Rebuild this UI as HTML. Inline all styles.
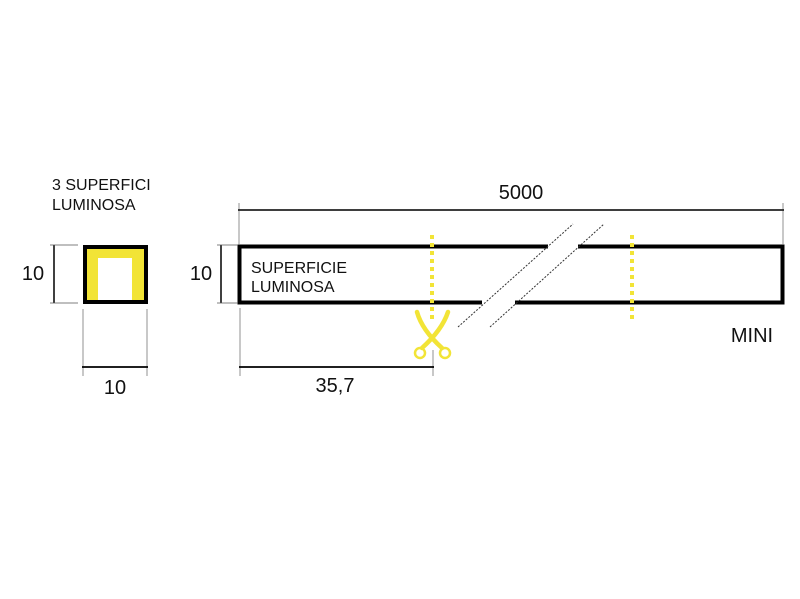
<!DOCTYPE html>
<html><head><style>
html,body{margin:0;padding:0;background:#fff;}
svg{display:block;}
text{font-family:"Liberation Sans",Arial,sans-serif;fill:#111;}
</style></head><body>
<svg width="800" height="599" viewBox="0 0 800 599" xmlns="http://www.w3.org/2000/svg">
<rect width="800" height="599" fill="#fff"/>
<text x="52" y="190" font-size="16">3 SUPERFICI</text>
<text x="52" y="210" font-size="16">LUMINOSA</text>
<rect x="85" y="247" width="61" height="55" fill="#f2e436" stroke="#000" stroke-width="4"/>
<rect x="98" y="258" width="34" height="42" fill="#fff"/>
<rect x="85" y="247" width="61" height="55" fill="none" stroke="#000" stroke-width="4"/>
<line x1="54" y1="245" x2="54" y2="303" stroke="#000" stroke-width="1.5"/>
<line x1="50" y1="245" x2="78" y2="245" stroke="#555" stroke-width="0.8"/>
<line x1="50" y1="303" x2="78" y2="303" stroke="#555" stroke-width="0.8"/>
<text x="33" y="280" font-size="20" text-anchor="middle">10</text>
<line x1="83" y1="309" x2="83" y2="376" stroke="#777" stroke-width="0.8"/>
<line x1="147" y1="309" x2="147" y2="376" stroke="#777" stroke-width="0.8"/>
<line x1="82" y1="367" x2="148" y2="367" stroke="#000" stroke-width="1.8"/>
<text x="115" y="394" font-size="20" text-anchor="middle">10</text>
<rect x="239.5" y="246.5" width="543" height="56" fill="none" stroke="#000" stroke-width="4"/>
<polygon points="548,243 578,243 578,249 548,249" fill="#fff"/>
<polygon points="482,300 515,300 515,306 482,306" fill="#fff"/>
<line x1="458" y1="327" x2="573" y2="224" stroke="#333" stroke-width="1" stroke-dasharray="2,1.5"/>
<line x1="490" y1="327" x2="604" y2="224" stroke="#333" stroke-width="1" stroke-dasharray="2,1.5"/>
<text x="251" y="273" font-size="16">SUPERFICIE</text>
<text x="251" y="292" font-size="16">LUMINOSA</text>
<line x1="432" y1="235" x2="432" y2="323" stroke="#f2e436" stroke-width="4" stroke-dasharray="4,4"/>
<line x1="632" y1="235" x2="632" y2="323" stroke="#f2e436" stroke-width="4" stroke-dasharray="4,4"/>
<line x1="239" y1="203" x2="239" y2="245" stroke="#777" stroke-width="0.8"/>
<line x1="783" y1="203" x2="783" y2="245" stroke="#777" stroke-width="0.8"/>
<line x1="238" y1="210" x2="784" y2="210" stroke="#222" stroke-width="1.8"/>
<text x="521" y="199" font-size="20" text-anchor="middle">5000</text>
<line x1="221" y1="245" x2="221" y2="303" stroke="#000" stroke-width="1.5"/>
<line x1="217" y1="245" x2="238" y2="245" stroke="#555" stroke-width="0.8"/>
<line x1="217" y1="303" x2="238" y2="303" stroke="#555" stroke-width="0.8"/>
<text x="201" y="280" font-size="20" text-anchor="middle">10</text>
<line x1="240" y1="308" x2="240" y2="376" stroke="#777" stroke-width="0.8"/>
<line x1="433" y1="350" x2="433" y2="376" stroke="#777" stroke-width="0.8"/>
<line x1="239" y1="367" x2="434" y2="367" stroke="#000" stroke-width="1.8"/>
<text x="335" y="392" font-size="20" text-anchor="middle">35,7</text>
<g fill="none" stroke="#f2e436" stroke-linecap="round">
<path d="M417,312 Q422,330 442,348" stroke-width="4.5"/>
<path d="M448,312 Q442,330 422,348" stroke-width="4.5"/>
<circle cx="420" cy="353" r="5" stroke-width="2.5"/>
<circle cx="445" cy="353" r="5" stroke-width="2.5"/>
</g>
<text x="752" y="342" font-size="20" text-anchor="middle">MINI</text>
</svg>
</body></html>
